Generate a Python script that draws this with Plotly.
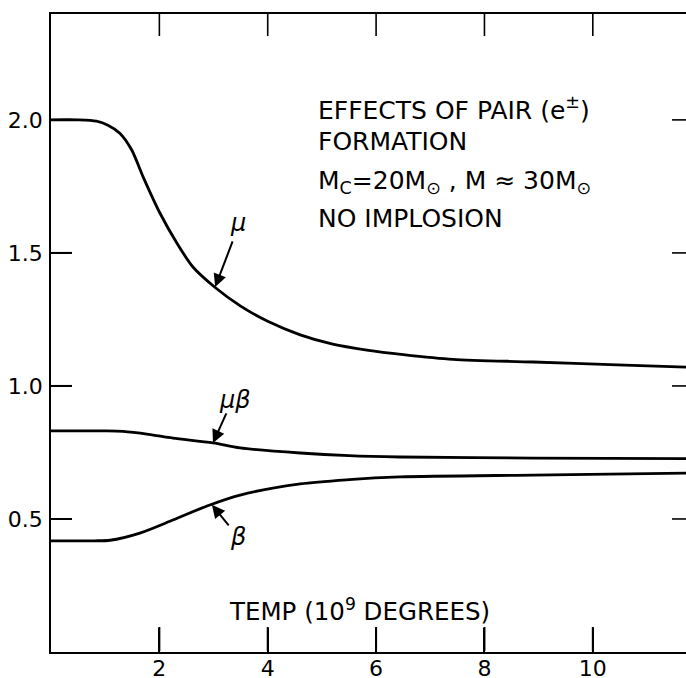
import plotly.graph_objects as go

# Data
temp_mu = [0, 0.5, 0.84, 1.05, 1.27, 1.49, 1.70, 2.01, 2.32, 2.62, 3.03, 3.5, 4.0, 4.6, 5.2, 5.83, 6.5, 7.42, 8.9, 10.45, 11.72]
mu = [2.0, 2.0, 1.995, 1.98, 1.95, 1.887, 1.786, 1.65, 1.538, 1.447, 1.37, 1.30, 1.243, 1.192, 1.157, 1.135, 1.118, 1.10, 1.09, 1.079, 1.071]

temp_mubeta = [0, 1.0, 1.33, 1.8, 2.25, 2.99, 3.49, 4.6, 5.5, 6.44, 8.9, 11.72]
mubeta = [0.831, 0.831, 0.829, 0.818, 0.804, 0.786, 0.767, 0.748, 0.738, 0.733, 0.729, 0.727]

temp_beta = [0, 0.8, 1.09, 1.64, 2.25, 2.88, 3.49, 4.6, 5.5, 6.44, 8.9, 11.72]
beta = [0.418, 0.418, 0.42, 0.447, 0.496, 0.549, 0.59, 0.632, 0.648, 0.658, 0.665, 0.672]

x_ticks = [2, 4, 6, 8, 10]
y_ticks = [0.5, 1.0, 1.5, 2.0]
y_tick_text = ["0.5", "1.0", "1.5", "2.0"]

FONT = "DejaVu Sans"
XR = [0, 11.72]
YR = [0, 2.398]
L, T, B = 51, 14, 26
PW, PH = 686 - L, 678 - T - B
PX_X = PW / (XR[1] - XR[0])   # pixels per x unit
PX_Y = PH / (YR[1] - YR[0])   # pixels per y unit

fig = go.Figure()
line_style = dict(color="black", width=2.8, shape="spline", smoothing=0.8)
fig.add_trace(go.Scatter(x=temp_mu, y=mu, mode="lines", line=line_style, hoverinfo="skip"))
fig.add_trace(go.Scatter(x=temp_mubeta, y=mubeta, mode="lines", line=line_style, hoverinfo="skip"))
fig.add_trace(go.Scatter(x=temp_beta, y=beta, mode="lines", line=line_style, hoverinfo="skip"))


# tick marks on all four sides, pointing into the frame, built from the tick lists
def seg_x(vals, y0, y1):
    xs, ys = [], []
    for v in vals:
        xs += [v, v, None]
        ys += [y0, y1, None]
    return xs, ys


def seg_y(vals, x0, x1):
    xs, ys = [], []
    for v in vals:
        xs += [x0, x1, None]
        ys += [v, v, None]
    return xs, ys


for (xs, ys), w in [
    (seg_x(x_ticks, YR[0] + 1 / PX_Y, YR[0] + 25 / PX_Y), 2.0),
    (seg_x(x_ticks, YR[1] - 22 / PX_Y, YR[1]), 1.6),
    (seg_y(y_ticks, XR[0] + 1 / PX_X, XR[0] + 21 / PX_X), 2.0),
    (seg_y(y_ticks, XR[1] - 14 / PX_X, XR[1]), 1.6),
]:
    fig.add_trace(go.Scatter(x=xs, y=ys, mode="lines", line=dict(color="black", width=w),
                             hoverinfo="skip", cliponaxis=False))

fig.update_layout(
    template="none",
    width=686, height=678,
    margin=dict(l=L, r=0, t=T, b=B, autoexpand=False),
    paper_bgcolor="white", plot_bgcolor="white",
    showlegend=False,
    font=dict(family=FONT, color="black", size=22),
    xaxis=dict(range=XR, tickmode="array", tickvals=x_ticks, ticktext=[str(v) for v in x_ticks],
               ticks="inside", ticklen=24, tickwidth=1.6, tickcolor="black",
               showline=True, linecolor="black", linewidth=1.6, mirror=True,
               ticklabelstandoff=-4, automargin=False, layer="above traces",
               showgrid=False, zeroline=False, tickfont=dict(size=22, family=FONT, color="black")),
    yaxis=dict(range=YR, tickmode="array", tickvals=y_ticks, ticktext=y_tick_text,
               ticks="inside", ticklen=20, tickwidth=1.6, tickcolor="black",
               showline=True, linecolor="black", linewidth=1.6, automargin=False,
               ticklabelstandoff=2, layer="above traces",
               showgrid=False, zeroline=False, tickfont=dict(size=22, family=FONT, color="black")),
)

text_lines = [
    ("EFFECTS OF PAIR (e<sup>±</sup>)", 108),
    ("FORMATION", 141),
    ("M<sub>C</sub>=20M<sub>⊙</sub> , M ≈ 30M<sub>⊙</sub>", 182),
    ("NO IMPLOSION", 218),
]
for txt, py in text_lines:
    fig.add_annotation(text=txt, xref="paper", yref="paper",
                       x=(316 - L) / PW, y=(T + PH - py) / PH,
                       xanchor="left", yanchor="middle", showarrow=False,
                       font=dict(size=25, family=FONT, color="black"))

fig.add_annotation(text="TEMP (10<sup>9</sup> DEGREES)", xref="paper", yref="paper",
                   x=(227 - L) / PW, y=(T + PH - 610) / PH, xanchor="left", yanchor="middle",
                   showarrow=False, font=dict(size=24.5, family=FONT, color="black"))

# curve labels
label_font = dict(size=24, family=FONT, color="black")
fig.add_annotation(text="<i>μ</i>", x=3.45, y=1.613, showarrow=False, font=label_font)
fig.add_annotation(text="<i>μβ</i>", x=3.40, y=0.947, showarrow=False, font=label_font)
fig.add_annotation(text="<i>β</i>", x=3.45, y=0.432, showarrow=False, font=label_font)

# arrows
arrow_kw = dict(text="", showarrow=True, arrowhead=2, arrowsize=1.3, arrowwidth=2, arrowcolor="black")
fig.add_annotation(x=3.03, y=1.372, ax=18, ay=-47, **arrow_kw)
fig.add_annotation(x=2.99, y=0.786, ax=14, ay=-31, **arrow_kw)
fig.add_annotation(x=2.97, y=0.553, ax=18, ay=22, **arrow_kw)

fig.write_html("out.html")
